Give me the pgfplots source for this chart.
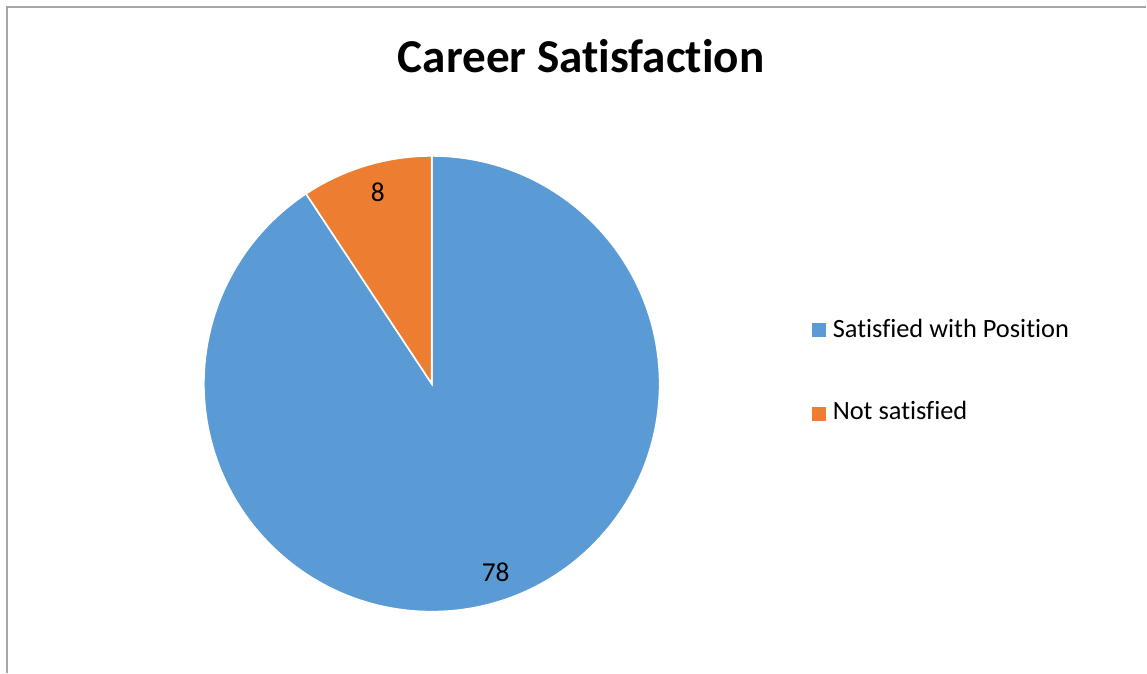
\documentclass[border=0pt]{standalone}
\usepackage{pgfplots}
\pgfplotsset{compat=1.18}
\usepackage{fontspec}
\setmainfont{Carlito}[Ligatures=NoCommon]
\definecolor{pieblue}{HTML}{5B9BD5}
\definecolor{pieorange}{HTML}{ED7D31}
\definecolor{framegray}{HTML}{A6A6A6}
% slice values
\def\valsat{78}
\def\valnot{8}
\begin{document}
\begin{tikzpicture}
\pgfmathsetmacro\total{\valsat+\valnot}
\pgfmathsetmacro\angsat{\valsat/\total*360}
\pgfmathsetmacro\angnot{\valnot/\total*360}
\begin{axis}[
  width=860.25pt, height=504.75pt, scale only axis,
  hide axis, clip=false,
  xmin=0, xmax=1147, ymin=0, ymax=673, y dir=reverse,
]
\fill[white] (axis cs:0,0) rectangle (axis cs:1147,673);
\draw[framegray, line width=1pt] (axis cs:7,673) -- (axis cs:7,7) -- (axis cs:1147,7);
% pie, 1 unit = 0.75pt, radius 228 units
\filldraw[fill=pieblue, draw=white, line width=1.2pt]
  (axis cs:432,384) -- ++(90:171pt) arc[start angle=90, delta angle=-\angsat, radius=171pt] -- cycle;
\filldraw[fill=pieorange, draw=white, line width=1.2pt]
  (axis cs:432,384) -- ++(90:171pt) arc[start angle=90, delta angle=\angnot, radius=171pt] -- cycle;
% data labels
\node[anchor=base, inner sep=0, font=\fontsize{20.5}{24}\selectfont] at (axis cs:496,582) {\valsat};
\node[anchor=base, inner sep=0, font=\fontsize{20.5}{24}\selectfont] at (axis cs:378,202) {\valnot};
% title
\node[anchor=base, inner sep=0, font=\fontsize{35.4}{42}\selectfont\bfseries] at (axis cs:581.5,73) {Career Satisfaction};
% legend
\fill[pieblue] (axis cs:812,323) rectangle (axis cs:826,337);
\node[anchor=base west, inner sep=0, font=\fontsize{19.8}{23}\selectfont] at (axis cs:833,338) {Satisfied with Position};
\fill[pieorange] (axis cs:812,407) rectangle (axis cs:826,421);
\node[anchor=base west, inner sep=0, font=\fontsize{19.8}{23}\selectfont] at (axis cs:833,420) {Not satisfied};
\end{axis}
\end{tikzpicture}
\end{document}
